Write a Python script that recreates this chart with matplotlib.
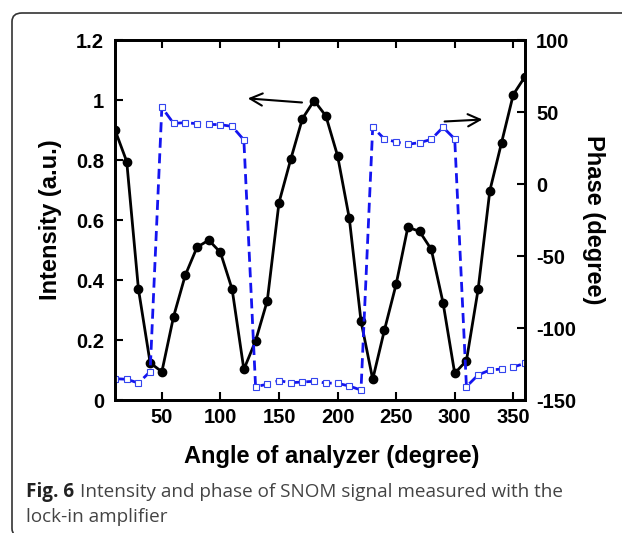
import matplotlib
matplotlib.use('Agg')
import matplotlib.pyplot as plt
from matplotlib.patches import FancyBboxPatch

# analyzer angle (degree)
angle = [10, 20, 30, 40, 50, 60, 70, 80, 90, 100, 110, 120, 130, 140, 150, 160, 170, 180,
         190, 200, 210, 220, 230, 240, 250, 260, 270, 280, 290, 300, 310, 320, 330, 340,
         350, 360]

# intensity (a.u.)
intensity = [0.90, 0.795, 0.37, 0.124, 0.094, 0.278, 0.416, 0.509, 0.533, 0.492, 0.369,
             0.102, 0.197, 0.331, 0.658, 0.802, 0.938, 0.998, 0.947, 0.814, 0.606, 0.263,
             0.069, 0.233, 0.386, 0.576, 0.562, 0.502, 0.325, 0.089, 0.131, 0.369, 0.698,
             0.858, 1.018, 1.078]

# phase (degree)
phase = [-135.2, -135.6, -138.2, -130.3, 53.2, 42.1, 42.6, 41.9, 41.4, 41.2, 40.0, 30.6,
         -140.7, -139.1, -136.6, -138.0, -137.5, -137.0, -138.2, -138.4, -140.3, -143.1,
         39.4, 31.3, 29.2, 27.6, 28.7, 31.0, 39.4, 31.3, -140.7, -132.6, -129.2, -128.5,
         -127.1, -124.5]

plt.rcParams['font.family'] = ['Liberation Sans', 'DejaVu Sans']
plt.rcParams['font.weight'] = 'bold'
plt.rcParams['axes.unicode_minus'] = False

fig = plt.figure(figsize=(6.22, 5.33), dpi=100)

# rounded frame (top + left edge visible, rest runs off the picture)
frame = FancyBboxPatch((12 / 622, -4 / 533), 640 / 622, 524 / 533,
                       boxstyle='round,pad=0,rounding_size=0.016',
                       transform=fig.transFigure, fill=False,
                       edgecolor='#333333', linewidth=1.2)
fig.patches.append(frame)

ax = fig.add_axes([115 / 622, 133 / 533, 410 / 622, 360 / 533])
ax2 = ax.twinx()

ax.plot(angle, intensity, color='black', linewidth=2, marker='o', markersize=6, zorder=3)
ax2.plot(angle, phase, color='#1414f0', linewidth=2, dashes=(3.6, 2),
         marker='s', markersize=5, markerfacecolor='white', markeredgecolor='#3344ee',
         markeredgewidth=0.8)

ax.set_xlim(10, 360)
ax.set_ylim(0, 1.2)
ax2.set_ylim(-150, 100)

ax.set_xticks([50, 100, 150, 200, 250, 300, 350])
ax.set_yticks([0, 0.2, 0.4, 0.6, 0.8, 1.0, 1.2])
ax.set_yticklabels(['0', '0.2', '0.4', '0.6', '0.8', '1', '1.2'])
ax2.set_yticks([-150, -100, -50, 0, 50, 100])

for a in (ax, ax2):
    for s in a.spines.values():
        s.set_linewidth(2)
ax.tick_params(axis='x', direction='in', top=True, length=6, width=1.5, labelsize=14.5, pad=6)
ax.tick_params(axis='y', direction='in', length=6, width=1.5, labelsize=14.5, pad=8)
ax2.tick_params(axis='y', direction='in', length=6, width=1.5, labelsize=14.5, pad=8)

ax.set_xlabel('Angle of analyzer (degree)', fontsize=17, fontweight='bold', labelpad=13)
ax.xaxis.label.set_x((332 - 115) / 410)
ax.set_ylabel('Intensity (a.u.)', fontsize=17, fontweight='bold', labelpad=10)
ax2.set_ylabel('Phase (degree)', fontsize=17, fontweight='bold', rotation=270, labelpad=21)

# arrows pointing to the corresponding axes
ax.annotate('', xy=(121, 1.006), xytext=(172, 0.991),
            arrowprops=dict(arrowstyle='->', color='black', lw=1.5, mutation_scale=22))
ax2.annotate('', xy=(326, 44.9), xytext=(289, 43.3),
             arrowprops=dict(arrowstyle='->', color='black', lw=1.5, mutation_scale=22))

# caption
fig.canvas.draw()
renderer = fig.canvas.get_renderer()
y1 = 1 - 492 / 533
fig_lbl = fig.text(26 / 622, y1, 'Fig. 6', fontsize=13.6, color='#222222', va='center',
                   family='Open Sans', fontweight='bold')
bb = fig_lbl.get_window_extent(renderer)
fig.text((bb.x1 + 6) / 622, y1, 'Intensity and phase of SNOM signal measured with the',
         fontsize=13.6, color='#444444', va='center', family='Open Sans', fontweight='normal')
fig.text(26 / 622, 1 - 517 / 533, 'lock-in amplifier',
         fontsize=13.6, color='#444444', va='center', family='Open Sans', fontweight='normal')

fig.savefig('out.png', dpi=100)
